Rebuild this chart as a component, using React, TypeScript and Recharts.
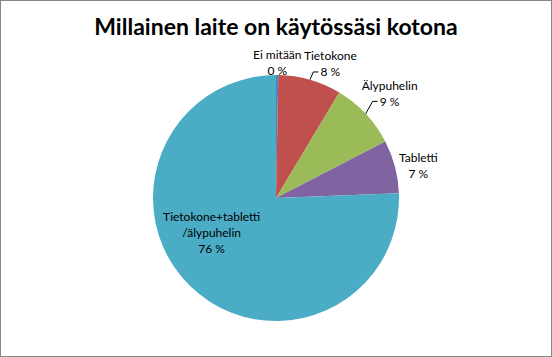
import { PieChart, Pie, Cell } from 'recharts'

const categories = ['Ei mitään', 'Tietokone', 'Älypuhelin', 'Tabletti', 'Tietokone+tabletti\n/älypuhelin']
const values = [0.3, 8.3, 8.8, 7.0, 75.6]
const percentLabels = ['0 %', '8 %', '9 %', '7 %', '76 %']
const colors = ['#4F81BD', '#C0504D', '#9BBB59', '#8064A2', '#4BACC6']

// label placement: radius factor, nudge, leader line
const labelPlacement = [
  { f: 1.1, dx: 0, dy: 0, leader: false },
  { f: 1.1, dx: 17, dy: -4, leader: true },
  { f: 1.1, dx: 15, dy: -12, leader: true },
  { f: 1.18, dx: 2, dy: 4, leader: false },
  { f: 0.59, dx: -14, dy: -18, leader: false }
]

const data = categories.map((name, i) => ({ name, value: values[i], pct: percentLabels[i] }))

const RAD = Math.PI / 180
const FONT = 'Lato, "Open Sans", sans-serif'

const renderLabel = (props: any) => {
  const { cx, cy, midAngle, outerRadius, index } = props
  const p = labelPlacement[index]
  const cos = Math.cos(-midAngle * RAD)
  const sin = Math.sin(-midAngle * RAD)
  const x = cx + outerRadius * p.f * cos + p.dx
  const y = cy + outerRadius * p.f * sin + p.dy
  const lines = [...categories[index].split('\n'), percentLabels[index]]
  const lh = 16
  const top = y - ((lines.length - 1) * lh) / 2
  let leader = null
  if (p.leader) {
    const ex = cx + outerRadius * cos
    const ey = cy + outerRadius * sin
    const ly = top + lh * (lines.length - 1)
    const lx = x - 12
    leader = (
      <polyline
        points={`${ex},${ey} ${lx - 5},${ly} ${lx},${ly}`}
        fill="none"
        stroke="#000"
        strokeWidth={1}
      />
    )
  }
  return (
    <g key={`lbl-${index}`}>
      {leader}
      <text x={x} textAnchor="middle" fontFamily={FONT} fontSize={12} fill="#000">
        {lines.map((t, i) => (
          <tspan key={i} x={x} y={top + i * lh} dominantBaseline="central">
            {t}
          </tspan>
        ))}
      </text>
    </g>
  )
}

export default function App() {
  return (
    <div
      style={{
        position: 'fixed',
        left: 0,
        top: 0,
        width: 550,
        height: 355,
        border: '1px solid #868686',
        background: '#fff'
      }}
    >
      <div
        style={{
          position: 'absolute',
          top: 11,
          left: 0,
          width: 550,
          textAlign: 'center',
          fontFamily: FONT,
          fontWeight: 'bold',
          fontSize: 23,
          color: '#000'
        }}
      >
        Millainen laite on käytössäsi kotona
      </div>
      <div style={{ position: 'absolute', left: -1, top: -1 }}>
        <PieChart width={552} height={357} margin={{ top: 0, right: 0, bottom: 0, left: 0 }}>
          <Pie
            data={data}
            dataKey="value"
            nameKey="name"
            cx={276}
            cy={198}
            outerRadius={123}
            startAngle={90}
            endAngle={-270}
            stroke="none"
            isAnimationActive={false}
            label={renderLabel}
            labelLine={false}
          >
            {data.map((d, i) => (
              <Cell key={d.name} fill={colors[i]} />
            ))}
          </Pie>
        </PieChart>
      </div>
    </div>
  )
}
